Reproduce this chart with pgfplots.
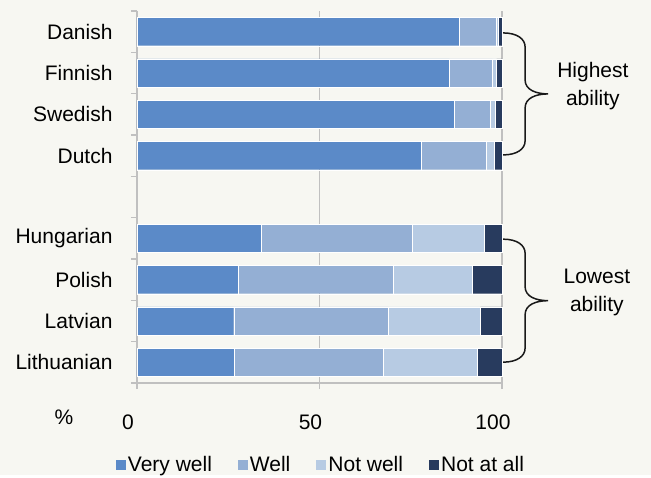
\documentclass[border=0pt]{standalone}
\usepackage{fontspec}
\setmainfont{Liberation Sans}
\usepackage{pgfplots}
\usepackage{pgfplotstable}
\pgfplotsset{compat=1.18}

\definecolor{cvw}{HTML}{5B8AC8}
\definecolor{cw}{HTML}{94AFD4}
\definecolor{cnw}{HTML}{B7CBE3}
\definecolor{cna}{HTML}{283B5E}
\definecolor{bgc}{HTML}{F7F7F2}
\definecolor{gridc}{HTML}{C0C0C0}

% shares per language, bottom row first
\pgfplotstableread{
pos vw   w    nw   na
9   88.2 10.2 0.6  1.0
8   85.5 11.8 1.2  1.5
7   86.8 10.1 1.2  1.9
6   78.0 17.8 2.0  2.2
4   34.0 41.3 19.9 4.8
3   27.7 42.4 21.8 8.1
2   26.5 42.3 25.3 5.9
1   26.6 40.8 25.9 6.7
}\langdata

\begin{document}
\begin{tikzpicture}[font=\fontsize{21}{25}\selectfont]
\fill[bgc] (-137pt,-92pt) rectangle (514pt,383pt);
\begin{axis}[
  at={(0,0)}, anchor=south west,
  scale only axis, width=365pt, height=372pt,
  xbar stacked, bar width=0.68,
  xmin=0, xmax=100, ymin=0.5, ymax=9.5,
  xtick={0,50,100},
  ytick={0.5,1.5,...,9.5},
  yticklabels={Lithuanian,Latvian,Polish,Hungarian,,Dutch,Swedish,Finnish,Danish},
  y tick label as interval,
  axis lines*=left,
  axis line style={draw=gridc, line width=1.5pt, -},
  tick style={draw=gridc, line width=1.5pt},
  major tick length=6pt,
  tick align=outside,
  xmajorgrids,
  major grid style={draw=gridc, line width=1.5pt},
  /pgf/number format/assume math mode=true,
  tick label style={font=\fontsize{21}{25}\selectfont, text=black},
  xticklabel style={xshift=-9pt, yshift=-22pt},
  yticklabel style={xshift=-15pt},
  clip=false,
  legend columns=4,
  legend style={at={(0.504,-0.22)}, anchor=center, draw=none, fill=none,
    font=\fontsize{21}{25}\selectfont,
    /tikz/every even column/.append style={column sep=24pt}},
  legend image code/.code={\path[#1,draw=none] (0pt,-5pt) rectangle (10pt,5pt);},
]
\addplot[fill=cvw, draw=white, line width=0.4pt] table[x=vw, y=pos] {\langdata};
\addplot[fill=cw,  draw=white, line width=0.4pt] table[x=w,  y=pos] {\langdata};
\addplot[fill=cnw, draw=white, line width=0.4pt] table[x=nw, y=pos] {\langdata};
\addplot[fill=cna, draw=white, line width=0.4pt] table[x=na, y=pos] {\langdata};
\legend{Very well, Well, Not well, Not at all}

\draw[line width=1.5pt, black!90] (axis cs:100.3,8.97)
  .. controls +(14pt,0pt) and +(0pt,8pt) .. ++(22pt,-14pt)
  -- ++(0pt,-33pt)
  .. controls +(0pt,-10pt) and +(-12pt,0pt) .. ++(23pt,-14pt)
  .. controls +(-12pt,0pt) and +(0pt,10pt) .. ++(-23pt,-14pt)
  -- ++(0pt,-33pt)
  .. controls +(0pt,-8pt) and +(14pt,0pt) .. ++(-22pt,-14pt);
\draw[line width=1.5pt, black!90] (axis cs:100.3,3.98)
  .. controls +(14pt,0pt) and +(0pt,8pt) .. ++(22pt,-14pt)
  -- ++(0pt,-33.5pt)
  .. controls +(0pt,-10pt) and +(-12pt,0pt) .. ++(23pt,-14pt)
  .. controls +(-12pt,0pt) and +(0pt,10pt) .. ++(-23pt,-14pt)
  -- ++(0pt,-33.5pt)
  .. controls +(0pt,-8pt) and +(14pt,0pt) .. ++(-22pt,-14pt);
\node[align=center, font=\fontsize{21}{28}\selectfont] at (axis cs:124.9,7.69) {Highest\\ability};
\node[align=center, font=\fontsize{21}{28}\selectfont] at (axis cs:126,2.68) {Lowest\\ability};
\node at (axis description cs:-0.2,-0.0914) {\%};
\end{axis}
\end{tikzpicture}
\end{document}
